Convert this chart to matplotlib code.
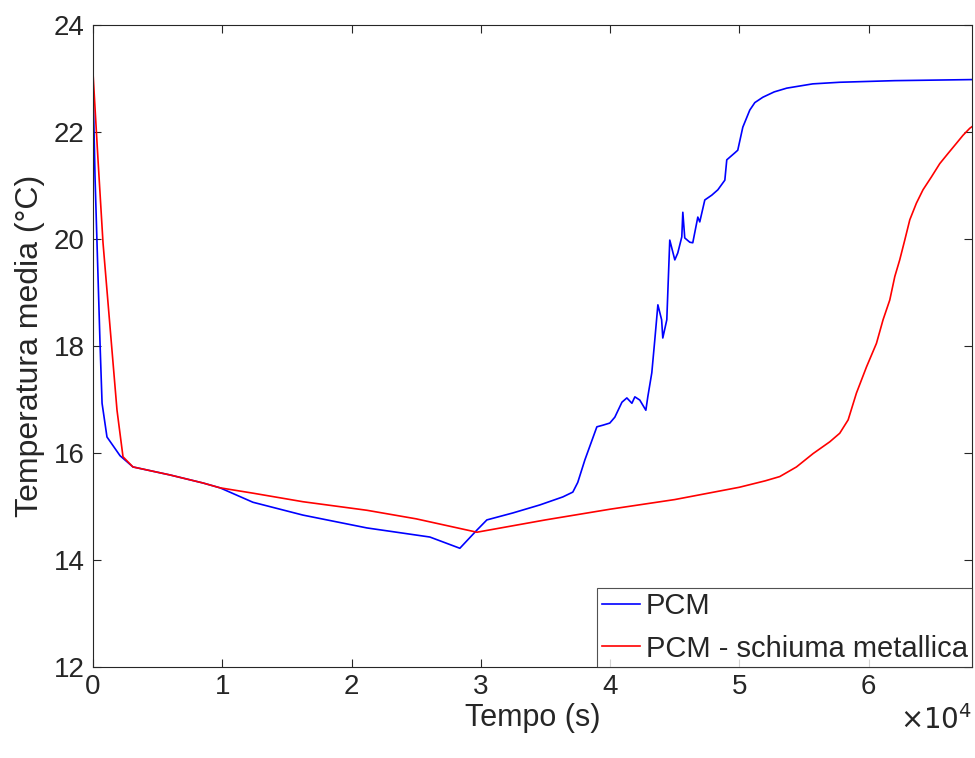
import matplotlib.pyplot as plt
import numpy as np

# Dati
tempo_pcm = [0, 155, 387, 541, 700, 1080, 2090, 3090, 5960, 8510, 9820, 12370, 16240,
             21190, 26060, 28380, 29700, 30470, 32480, 34570, 36350, 37120, 37500,
             38050, 38980, 39440, 39980, 40370, 40920, 41300, 41690, 41920, 42300,
             42770, 42920, 43230, 43460, 43700, 43990, 44080, 44390, 44620, 45010,
             45240, 45550, 45630, 45780, 46170, 46400, 46790, 46940, 47330, 47870,
             48340, 48880, 49030, 49650, 49880, 50270, 50810, 51200, 51820, 52700,
             53670, 55680, 57770, 62000, 68000]
temp_pcm = [22.9, 21.16, 19.3, 18.06, 16.93, 16.3, 15.95, 15.74, 15.59, 15.44, 15.35,
            15.08, 14.84, 14.6, 14.43, 14.22, 14.56, 14.75, 14.88, 15.03, 15.18, 15.27,
            15.45, 15.87, 16.49, 16.52, 16.56, 16.67, 16.95, 17.03, 16.93, 17.05, 16.99,
            16.8, 17.05, 17.5, 18.11, 18.77, 18.49, 18.15, 18.49, 19.98, 19.61, 19.74,
            20.04, 20.5, 20.02, 19.94, 19.93, 20.41, 20.32, 20.73, 20.82, 20.92, 21.1,
            21.48, 21.61, 21.66, 22.09, 22.41, 22.55, 22.65, 22.75, 22.82, 22.9, 22.93,
            22.96, 22.98]

tempo_schiuma = [0, 387, 773, 1315, 1856, 2320, 3090, 5960, 8510, 9820, 12370, 16240,
                 21190, 25000, 29700, 35000, 40000, 45000, 50000, 52000, 53130, 54420,
                 55710, 57000, 57770, 58420, 59060, 59840, 60610, 61120, 61640, 62030,
                 62410, 62800, 63190, 63700, 64210, 64860, 65510, 66150, 66800, 67310,
                 67830, 68000]
temp_schiuma = [23.1, 21.48, 19.93, 18.36, 16.8, 15.93, 15.74, 15.59, 15.44, 15.35,
                15.25, 15.09, 14.93, 14.77, 14.52, 14.75, 14.95, 15.13, 15.36, 15.48,
                15.56, 15.74, 15.99, 16.21, 16.37, 16.62, 17.12, 17.61, 18.05, 18.49,
                18.86, 19.3, 19.61, 19.98, 20.36, 20.67, 20.92, 21.16, 21.41, 21.6,
                21.79, 21.94, 22.07, 22.1]

plt.rcParams['font.family'] = ['Liberation Sans', 'DejaVu Sans']

fig = plt.figure(figsize=(9.75, 7.58), dpi=100)
ax = fig.add_axes([0.0954, 0.12, 0.9015, 0.847])

ax.plot(tempo_pcm, temp_pcm, color='#0000ff', linewidth=1.2, label='PCM')
ax.plot(tempo_schiuma, temp_schiuma, color='#ff0000', linewidth=1.2,
        label='PCM - schiuma metallica')

ax.set_xlim(0, 68000)
ax.set_ylim(12, 24)
ax.set_xticks([0, 10000, 20000, 30000, 40000, 50000, 60000])
ax.set_xticklabels(['0', '1', '2', '3', '4', '5', '6'])
ax.set_yticks([12, 14, 16, 18, 20, 22, 24])

ax.tick_params(direction='in', length=6, width=0.8, labelsize=20,
               colors='#262626', top=True, right=True, pad=6)
ax.tick_params(axis='x', pad=5)
for s in ax.spines.values():
    s.set_color('#262626')
    s.set_linewidth(0.8)

ax.set_xlabel('Tempo (s)', fontsize=22, color='#262626', labelpad=2)
ax.set_ylabel('Temperatura media (°C)', fontsize=23, color='#262626', labelpad=6)
ax.text(1.0, -0.06, r'$\times10^{4}$', transform=ax.transAxes, ha='right', va='top',
        fontsize=20, color='#262626')

leg = ax.legend(loc='lower right', fontsize=21, frameon=True, fancybox=False,
                handlelength=1.3, handletextpad=0.2, borderpad=0.15,
                labelspacing=0.5, borderaxespad=0.0)
leg.get_frame().set_edgecolor('#262626')
leg.get_frame().set_linewidth(0.8)
for t in leg.get_texts():
    t.set_color('#262626')

plt.savefig('out.png', dpi=100)
